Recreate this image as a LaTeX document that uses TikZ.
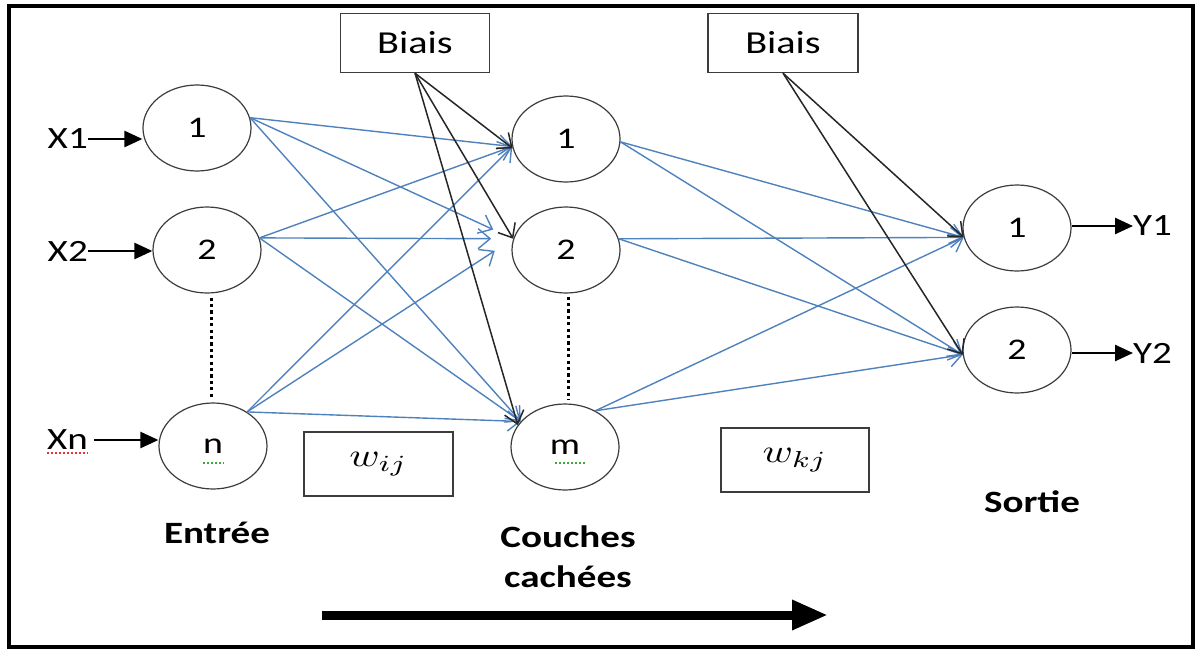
\documentclass[tikz,border=0pt]{standalone}
\usepackage{fontspec}
\setmainfont[FakeStretch=1.26]{Carlito}
\usepackage{graphicx}
\usetikzlibrary{shapes.geometric,arrows.meta}

\definecolor{linkblue}{RGB}{79,129,189}
\definecolor{edgegray}{RGB}{60,60,60}
\definecolor{spellred}{RGB}{235,50,50}
\definecolor{spellgreen}{RGB}{60,170,60}

\begin{document}
\begin{tikzpicture}[x=1pt,y=-1pt,
  neuron/.style={ellipse, draw=edgegray, line width=1.2pt, minimum width=108pt,
    minimum height=86pt, inner sep=0pt, font=\fontsize{30}{30}\selectfont},
  tagbox/.style={rectangle, draw=edgegray, line width=1.4pt, inner sep=0pt},
  link/.style={draw=linkblue, line width=1.4pt, -{Straight Barb[length=12pt,width=20pt]}},
  biaslink/.style={draw=black!85, line width=1.5pt, -{Straight Barb[length=12pt,width=20pt]}},
  feed/.style={line width=2.5pt, -{Triangle[length=18pt,width=16pt]}},
  io/.style={font=\fontsize{31}{31}\selectfont, inner sep=0pt},
  layer/.style={font=\bfseries\fontsize{31}{40}\selectfont, align=center, inner sep=0pt},
  gap/.style={line width=3pt, dash pattern=on 3.2pt off 3.2pt},
  squiggle/.style={line width=1.4pt, dash pattern=on 2pt off 2pt},
]
\useasboundingbox (0,0) rectangle (1198,650);
\draw[line width=4pt] (9,6) rectangle (1193,647);

% neurons
\node[neuron] (in1) at (197,128) {1};
\node[neuron] (in2) at (207,250) {2};
\node[neuron] (inn) at (213,446) {n};
\node[neuron] (h1) at (566,139) {1};
\node[neuron] (h2) at (566,250) {2};
\node[neuron] (hm) at (565,447) {m};
\node[neuron] (o1) at (1017,228) {1};
\node[neuron] (o2) at (1017,350) {2};

% bias and weight boxes
\node[tagbox, minimum width=149pt, minimum height=59pt, font=\fontsize{32}{32}\selectfont] (b1) at (415,43) {Biais};
\node[tagbox, minimum width=150pt, minimum height=59pt, font=\fontsize{32}{32}\selectfont] (b2) at (783,43) {Biais};
\node[tagbox, minimum width=149pt, minimum height=64pt] (wa) at (378.5,464) {\scalebox{4.1}[3.3]{$w_{ij}$}};
\node[tagbox, minimum width=148pt, minimum height=64pt] (wb) at (795,460) {\scalebox{4.1}[3.3]{$w_{kj}$}};

% layer captions
\node[layer] (entree) at (217,533) {Entrée};
\node[layer] (hidden) at (568,557) {Couches\\cachées};
\node[layer] (sortie) at (1032,502) {Sortie};

% inputs and outputs
\node[io, anchor=east] (x1) at (88,139) {X1};
\node[io, anchor=east] (x2) at (88,251) {X2};
\node[io, anchor=east] (xn) at (88,440) {Xn};
\node[io, anchor=west] (y1) at (1133,226) {Y1};
\node[io, anchor=west] (y2) at (1133,353) {Y2};

\draw[feed] (x1.east) -- (x1.east -| in1.west);
\draw[feed] (x2.east) -- (x2.east -| in2.west);
\draw[feed] ([xshift=6pt]xn.east) -- (xn.east -| inn.west);
\draw[feed] (y1.west -| o1.east) -- (y1.west);
\draw[feed] (y2.west -| o2.east) -- (y2.west);

% weighted links
\foreach \s/\a in {in1/11, in2/13, inn/45} {
  \draw[link] (\s.\a) -- (h1.188);
  \draw[link, shorten >=22pt] (\s.\a) -- (h2.168);
  \draw[link] (\s.\a) -- (hm.150);
}
\foreach \s/\a in {h1/-3, h2/12, hm/50} {
  \draw[link] (\s.\a) -- (o1.190);
  \draw[link] (\s.\a) -- (o2.185);
}

% bias links
\draw[biaslink] (b1.south) -- (h1.190);
\draw[biaslink] (b1.south) -- (h2.168);
\draw[biaslink] (b1.south) -- (hm.155);
\draw[biaslink] (b2.south) -- (o1.190);
\draw[biaslink] (b2.south) -- (o2.185);

% elided neurons
\draw[gap] ([xshift=4pt,yshift=-4pt]in2.south) -- ([xshift=-2pt,yshift=3pt]inn.north);
\draw[gap] ([xshift=2pt,yshift=-3pt]h2.south) -- ([xshift=3pt,yshift=4pt]hm.north);

% spelling marks under labels
\draw[squiggle, spellred] ([yshift=-3pt]xn.south west) -- ([yshift=-3pt]xn.south east);
\draw[squiggle, spellgreen] ([xshift=-10pt,yshift=-17pt]inn.center) -- ([xshift=11pt,yshift=-17pt]inn.center);
\draw[squiggle, spellgreen] ([xshift=-10pt,yshift=-16pt]hm.center) -- ([xshift=21pt,yshift=-16pt]hm.center);

% direction of propagation
\coordinate (flowA) at (322,615);
\coordinate (flowB) at (828,615);
\draw[line width=9pt, -{Triangle[length=36pt,width=28pt]}] (flowA) -- (flowB);
\end{tikzpicture}
\end{document}
